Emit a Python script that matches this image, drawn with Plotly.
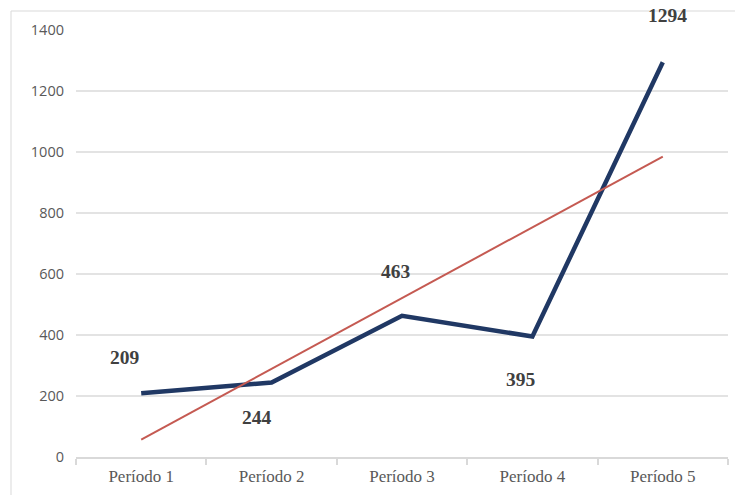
import numpy as np
import plotly.graph_objects as go

# Data
periodos = ["Período 1", "Período 2", "Período 3", "Período 4", "Período 5"]
valores = [209, 244, 463, 395, 1294]
y_ticks = [0, 200, 400, 600, 800, 1000, 1200, 1400]

# Linear trend (least squares) over the period index
idx = np.arange(1, len(valores) + 1)
pendiente, intercepto = np.polyfit(idx, valores, 1)
tendencia = pendiente * idx + intercepto

# Label offsets in pixels (dx, dy) for each data label
label_offsets = [(-16, 36), (-15, -35), (-6, 44), (-11, -43), (5, 47)]

fig = go.Figure()

fig.add_trace(go.Scatter(
    x=periodos, y=valores, mode="lines",
    line=dict(color="#203864", width=4.5),
    showlegend=False, hoverinfo="skip",
))

fig.add_trace(go.Scatter(
    x=periodos, y=tendencia, mode="lines",
    line=dict(color="#c55a52", width=2),
    showlegend=False, hoverinfo="skip",
))

for cat, val, (dx, dy) in zip(periodos, valores, label_offsets):
    fig.add_annotation(
        x=cat, y=val, text=f"<b>{val}</b>", showarrow=False,
        xshift=dx, yshift=dy,
        font=dict(family="Liberation Serif", size=19.5, color="#404040"),
    )

# Outer chart border
fig.add_shape(
    type="rect", xref="paper", yref="paper",
    x0=(11 - 76) / 652, x1=(745 - 76) / 652,
    y0=(457 - 505) / 427, y1=(457 - 11) / 427,
    line=dict(color="#d9d9d9", width=1), fillcolor="rgba(0,0,0,0)",
    layer="below",
)

fig.update_layout(
    width=735, height=495,
    margin=dict(l=76, r=7, t=30, b=38),
    paper_bgcolor="white", plot_bgcolor="white",
    xaxis=dict(
        type="category", range=[-0.5, 4.5],
        showgrid=False, zeroline=False,
        showline=True, linecolor="#d9d9d9", linewidth=1.5,
        ticks="outside", tickson="boundaries", ticklen=6,
        tickcolor="#d9d9d9", tickwidth=1.5,
        ticklabelstandoff=3,
        tickfont=dict(family="Liberation Serif", size=17, color="#595959"),
    ),
    yaxis=dict(
        range=[0, 1400], tickvals=y_ticks,
        showgrid=True, gridcolor="#e3e3e3", gridwidth=1.5,
        zeroline=False, showline=False, ticks="",
        ticklabelstandoff=11,
        tickfont=dict(family="Open Sans", size=14.5, color="#595959"),
    ),
)

fig.write_html("out.html")
